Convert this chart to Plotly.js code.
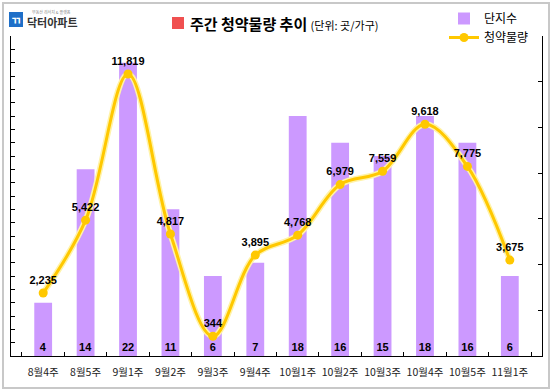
<!DOCTYPE html>
<html><head><meta charset="utf-8">
<script src="https://cdn.plot.ly/plotly-3.0.1.min.js"></script>
<style>
html,body{margin:0;padding:0;background:#fff;}
#wrap{position:relative;width:553px;height:391px;}
#chart{width:553px;height:391px;}
#frame{position:absolute;left:2px;top:2px;width:544px;height:383px;border:2px solid #c8c8c8;pointer-events:none;}
</style></head>
<body>
<div id="wrap"><div id="chart"></div><div id="frame"></div></div>
<script>
const weeks = ['8월4주','8월5주','9월1주','9월2주','9월3주','9월4주','10월1주','10월2주','10월3주','10월4주','10월5주','11월1주'];
const complexes = [4,14,22,11,6,7,18,16,15,18,16,6];
const units = [2235,5422,11819,4817,344,3895,4768,6979,7559,9618,7775,3675];
const unitLabels = units.map(v => v.toLocaleString('en-US'));

const font = 'Liberation Sans, Arial, "Noto Sans CJK KR", sans-serif';
const kfont = '"Noto Sans CJK KR", "Liberation Sans", sans-serif';

const traces = [
  {type:'bar', name:'단지수', x:weeks, y:complexes, yaxis:'y',
   marker:{color:'#CC99FF'}, width:0.42,
   text:complexes.map(String), textposition:'inside', insidetextanchor:'start',
   constraintext:'none', textangle:0,
   textfont:{family:font, size:11, color:'#000', weight:'bold'}},
  {type:'scatter', mode:'lines', x:weeks, y:units, yaxis:'y2', showlegend:false,
   hoverinfo:'skip', line:{color:'#FFF3A8', width:6, shape:'spline', smoothing:1}},
  {type:'scatter', mode:'lines+markers+text', name:'청약물량', x:weeks, y:units, yaxis:'y2',
   line:{color:'#FFC800', width:3, shape:'spline', smoothing:1},
   marker:{color:'#FFC800', size:9},
   text:unitLabels, textposition:'top center',
   textfont:{family:font, size:11, color:'#000', weight:'bold'}}
];

const layout = {
  width:553, height:391,
  margin:{l:11, r:11, t:36, b:35, autoexpand:false},
  paper_bgcolor:'#fff', plot_bgcolor:'#fff',
  xaxis:{type:'category', showline:true, linecolor:'#000', linewidth:1,
         ticks:'inside', ticklen:4, tickcolor:'#000', tickson:'boundaries',
         tickangle:0, automargin:false, ticklabelstandoff:6,
         tickfont:{family:kfont, size:10.5, color:'#222'}, showgrid:false},
  yaxis:{range:[0,24], dtick:1, tick0:0, showline:true, linecolor:'#000', linewidth:1,
         ticks:'inside', ticklen:4, tickcolor:'#000', showticklabels:false,
         showgrid:false, zeroline:false, automargin:false},
  yaxis2:{overlaying:'y', side:'right', range:[-520,13480], tick0:-520, dtick:2000,
          showline:true, linecolor:'#000', linewidth:1, ticks:'inside', ticklen:4,
          tickcolor:'#000', showticklabels:false, showgrid:false, zeroline:false, automargin:false},
  showlegend:true,
  legend:{xref:'container', yref:'container', x:444/553, xanchor:'left', y:1-4/391, yanchor:'top',
          bgcolor:'rgba(0,0,0,0)',
          font:{family:kfont, size:12, color:'#000'}, tracegroupgap:0, itemwidth:30},
  shapes:[
    {type:'rect', xref:'paper', yref:'paper', x0:(172-11)/531, x1:(184-11)/531,
     y0:(356-29)/320, y1:(356-17)/320, fillcolor:'#F05050', line:{width:0}},
    {type:'rect', xref:'paper', yref:'paper', x0:(9-11)/531, x1:(23-11)/531,
     y0:(356-27)/320, y1:(356-12)/320, fillcolor:'#1E6FC8', line:{width:0}}
  ],
  annotations:[
    {xref:'paper', yref:'paper', x:(188-11)/531, y:(356-23)/320, xanchor:'left', yanchor:'middle',
     showarrow:false, text:'<b>주간 청약물량 추이</b> <span style="font-size:11px">(단위: 곳/가구)</span>',
     font:{family:kfont, size:15, color:'#000'}},
    {xref:'paper', yref:'paper', x:(16-11)/531, y:(356-19.5)/320, xanchor:'center', yanchor:'middle',
     showarrow:false, text:'<b>ㄲ</b>', font:{family:kfont, size:11, color:'#fff'}},
    {xref:'paper', yref:'paper', x:(25-11)/531, y:(356-22)/320, xanchor:'left', yanchor:'middle',
     showarrow:false, text:'<b>닥터아파트</b>', font:{family:kfont, size:11, color:'#333'}},
    {xref:'paper', yref:'paper', x:(30-11)/531, y:(356-12)/320, xanchor:'left', yanchor:'middle',
     showarrow:false, text:'부동산 리서치 & 플랫폼', font:{family:kfont, size:4, color:'#888'}}
  ]
};

Plotly.newPlot('chart', traces, layout, {displayModeBar:false, staticPlot:true});
</script>
</body></html>
